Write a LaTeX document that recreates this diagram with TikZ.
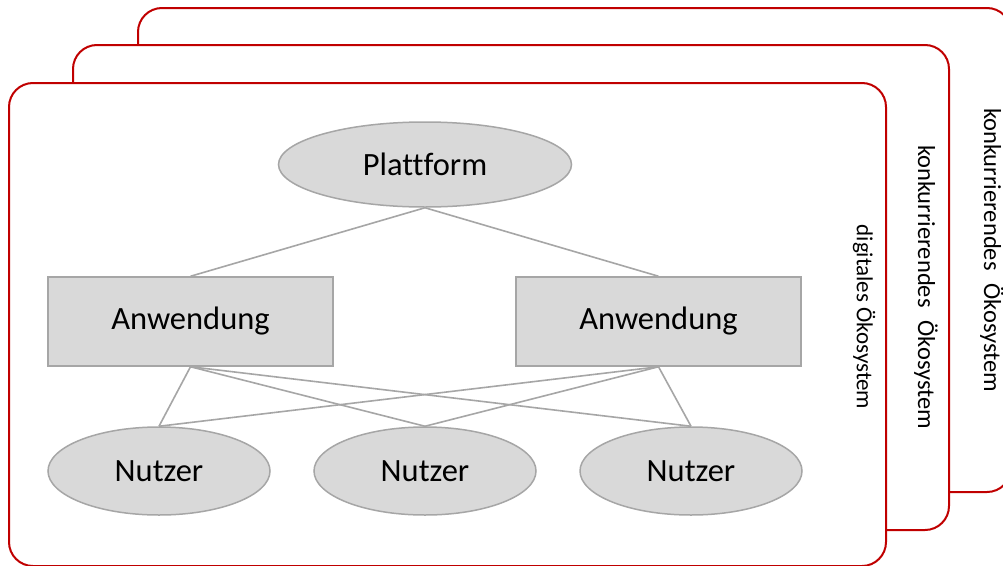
\documentclass[tikz,border=0pt]{standalone}
\usepackage{fontspec}
\setmainfont{Carlito}[Ligatures=NoCommon]
\usetikzlibrary{shapes.geometric}
\definecolor{ecored}{HTML}{C00000}
\definecolor{linkgray}{HTML}{A6A6A6}
\definecolor{nodefill}{HTML}{D9D9D9}
\tikzset{
  eco/.style={draw=ecored, line width=2pt, fill=white, rounded corners=24pt},
  ecolabel/.style={rotate=-90, font=\fontsize{24.5}{28}\selectfont, text=black, inner sep=0pt},
  oval/.style={ellipse, draw=linkgray, line width=1.5pt, fill=nodefill, inner sep=0pt,
    font=\fontsize{32.5}{36}\selectfont},
  appbox/.style={rectangle, draw=linkgray, line width=1.5pt, fill=nodefill, inner sep=0pt,
    minimum width=285pt, minimum height=89pt, font=\fontsize{32.5}{36}\selectfont},
  link/.style={draw=linkgray, line width=1.6pt}
}
\begin{document}
\begin{tikzpicture}[x=1pt, y=-1pt]
  \useasboundingbox (0,0) rectangle (1003,565);
  \clip (0,0) rectangle (1003,565);

  % nested ecosystem frames, back to front
  \draw[eco] (138,8) rectangle (1011,492);
  \draw[eco] (73,45) rectangle (949,530);
  \draw[eco] (9,83) rectangle (886,566);

  \node[ecolabel] (lbl3) at (992,250) {konkurrierendes\hspace{0.3em} Ökosystem};
  \node[ecolabel] (lbl2) at (926,287) {konkurrierendes\hspace{0.3em} Ökosystem};
  \node[ecolabel, font=\fontsize{23}{27}\selectfont] (lbl1) at (864,317) {digitales Ökosystem};

  % platform, applications, users
  \node[oval, minimum width=293pt, minimum height=85pt] (plat) at (425,164.5) {Plattform};
  \node[appbox] (appL) at (190.5,321.5) {Anwendung};
  \node[appbox] (appR) at (658.5,321.5) {Anwendung};
  \node[oval, minimum width=222pt, minimum height=88pt] (userA) at (159,471) {Nutzer};
  \node[oval, minimum width=222pt, minimum height=88pt] (userB) at (425,471) {Nutzer};
  \node[oval, minimum width=222pt, minimum height=88pt] (userC) at (691,471) {Nutzer};

  % connections
  \draw[link] (plat.south) -- (appL.north);
  \draw[link] (plat.south) -- (appR.north);
  \draw[link] (appL.south) -- (userA.north);
  \draw[link] (appL.south) -- (userB.north);
  \draw[link] (appL.south) -- (userC.north);
  \draw[link] (appR.south) -- (userA.north);
  \draw[link] (appR.south) -- (userB.north);
  \draw[link] (appR.south) -- (userC.north);
\end{tikzpicture}
\end{document}
